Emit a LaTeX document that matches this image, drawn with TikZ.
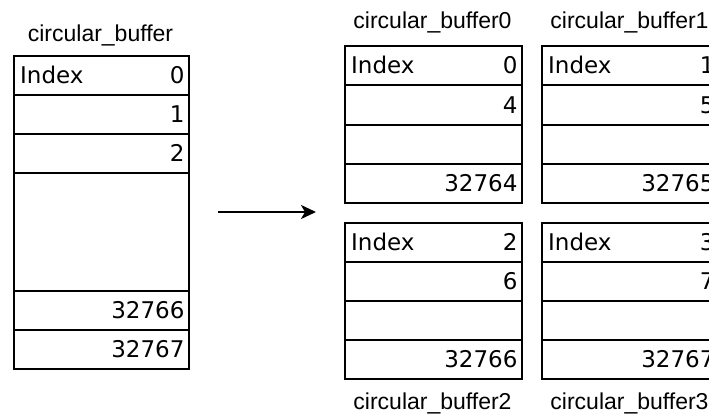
\documentclass[tikz,border=0pt]{standalone}
\usepackage{fontspec}
\setmainfont{DejaVu Sans}
\newfontfamily\titlefont{Liberation Sans}
\usetikzlibrary{arrows.meta}

% one cell of a buffer table: name, x, y (top left), width, height, value
\newcommand\bufcell[6]{%
  \node[cellbox, minimum width=#4pt, minimum height=#5pt] (#1) at (#2,#3) {};
  \node[cellval] (#1-v) at ([xshift=-5pt]#1.east) {#6};
}

\begin{document}
\begin{tikzpicture}[x=1pt,y=-1pt,
  cellbox/.style={draw, line width=1.7pt, inner sep=0pt, anchor=north west},
  cellval/.style={anchor=east, inner sep=0pt, font=\fontsize{23}{27}\selectfont},
  idxlabel/.style={anchor=west, inner sep=0pt, font=\fontsize{23}{27}\selectfont},
  bufname/.style={anchor=base, inner sep=0pt, font=\titlefont\fontsize{23}{27}\selectfont},
  flow/.style={line width=2pt, -{Stealth[length=15pt,width=14pt,inset=4pt]}}]
\useasboundingbox (0,0) rectangle (709,413);
\clip (0,0) rectangle (709,413);

% original buffer
\node[bufname] (t) at (100.5,41.5) {circular\_buffer};
\bufcell{a0}{13}{55}{175}{39}{0}
\bufcell{a1}{13}{94}{175}{39}{1}
\bufcell{a2}{13}{133}{175}{39}{2}
\bufcell{a3}{13}{172}{175}{118}{}
\bufcell{a4}{13}{290}{175}{39}{32766}
\bufcell{a5}{13}{329}{175}{39}{32767}
\node[idxlabel] (ai) at ([xshift=7pt]a0.west) {Index};

% split buffers, top row
\node[bufname] (t0) at (432.5,28.5) {circular\_buffer0};
\bufcell{b0}{344}{45}{177}{39}{0}
\bufcell{b1}{344}{84}{177}{40}{4}
\bufcell{b2}{344}{124}{177}{39}{}
\bufcell{b3}{344}{163}{177}{39}{32764}
\node[idxlabel] (bi) at ([xshift=7pt]b0.west) {Index};

\node[bufname] (t1) at (629.5,28.5) {circular\_buffer1};
\bufcell{c0}{541}{45}{177}{39}{1}
\bufcell{c1}{541}{84}{177}{40}{5}
\bufcell{c2}{541}{124}{177}{39}{}
\bufcell{c3}{541}{163}{177}{39}{32765}
\node[idxlabel] (ci) at ([xshift=7pt]c0.west) {Index};

% split buffers, bottom row
\bufcell{d0}{344}{222}{177}{39}{2}
\bufcell{d1}{344}{261}{177}{39}{6}
\bufcell{d2}{344}{300}{177}{39}{}
\bufcell{d3}{344}{339}{177}{39}{32766}
\node[idxlabel] (di) at ([xshift=7pt]d0.west) {Index};
\node[bufname] (t2) at (432.5,409) {circular\_buffer2};

\bufcell{e0}{541}{222}{177}{39}{3}
\bufcell{e1}{541}{261}{177}{39}{7}
\bufcell{e2}{541}{300}{177}{39}{}
\bufcell{e3}{541}{339}{177}{39}{32767}
\node[idxlabel] (ei) at ([xshift=7pt]e0.west) {Index};
\node[bufname] (t3) at (629.5,409) {circular\_buffer3};

% split arrow between the original and the split buffers
\coordinate (from) at (218,212);
\coordinate (to) at (316,212);
\draw[flow] (from) -- (to);
\end{tikzpicture}
\end{document}
